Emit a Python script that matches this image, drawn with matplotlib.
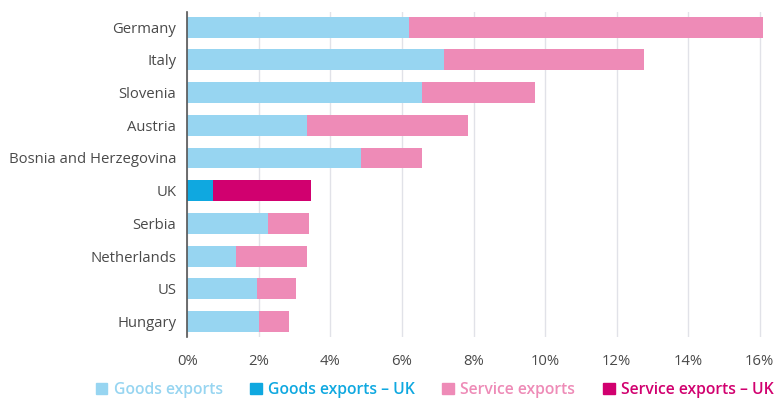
import matplotlib.pyplot as plt
from matplotlib.patches import Patch

plt.rcParams['font.family'] = ['Open Sans', 'DejaVu Sans']

countries = ['Germany', 'Italy', 'Slovenia', 'Austria', 'Bosnia and Herzegovina',
             'UK', 'Serbia', 'Netherlands', 'US', 'Hungary']
goods = [6.19, 7.17, 6.55, 3.35, 4.86, 0.73, 2.25, 1.37, 1.94, 1.99]
total = [16.08, 12.75, 9.71, 7.83, 6.57, 3.45, 3.41, 3.35, 3.05, 2.85]
services = [t - g for t, g in zip(total, goods)]

c_goods = '#97d5f1'
c_goods_uk = '#0fa8e0'
c_serv = '#ee8bb7'
c_serv_uk = '#d1006f'
text_col = '#4a4a4a'

goods_cols = [c_goods_uk if c == 'UK' else c_goods for c in countries]
serv_cols = [c_serv_uk if c == 'UK' else c_serv for c in countries]

fig = plt.figure(figsize=(7.76, 4.0), dpi=100)
ax = fig.add_axes([0.2414, 0.1575, 0.747, 0.8133])

y = list(range(len(countries)))
ax.barh(y, goods, height=0.64, color=goods_cols, zorder=2)
ax.barh(y, services, left=goods, height=0.64, color=serv_cols, zorder=2)

ax.set_ylim(len(countries) - 1 + 0.47, -0.47)
ax.set_xlim(0, 16.2)
ax.set_xticks(range(0, 17, 2))
ax.set_xticklabels([f'{v}%' for v in range(0, 17, 2)])
ax.set_yticks(y)
ax.set_yticklabels(countries)
ax.tick_params(length=0, labelsize=10.7, colors=text_col)
ax.tick_params(axis='x', pad=12)
ax.tick_params(axis='y', pad=8)

ax.grid(axis='x', color='#e1e2e8', linewidth=1, zorder=0)
for s in ['top', 'right', 'bottom']:
    ax.spines[s].set_visible(False)
ax.spines['left'].set_color('#555555')
ax.spines['left'].set_linewidth(1.2)
ax.spines['left'].set_zorder(3)

handles = [Patch(color=c_goods), Patch(color=c_goods_uk),
           Patch(color=c_serv), Patch(color=c_serv_uk)]
labels = ['Goods exports', 'Goods exports \u2013 UK', 'Service exports', 'Service exports \u2013 UK']
leg = fig.legend(handles, labels, loc='center', bbox_to_anchor=(0.56, 0.025), ncol=4,
                 frameon=False, handlelength=0.75, handleheight=0.75, handletextpad=0.4,
                 columnspacing=1.75, prop={'size': 11.3, 'weight': 'semibold'},
                 labelcolor=[c_goods, c_goods_uk, c_serv, c_serv_uk])

fig.savefig('out.png', dpi=100)
